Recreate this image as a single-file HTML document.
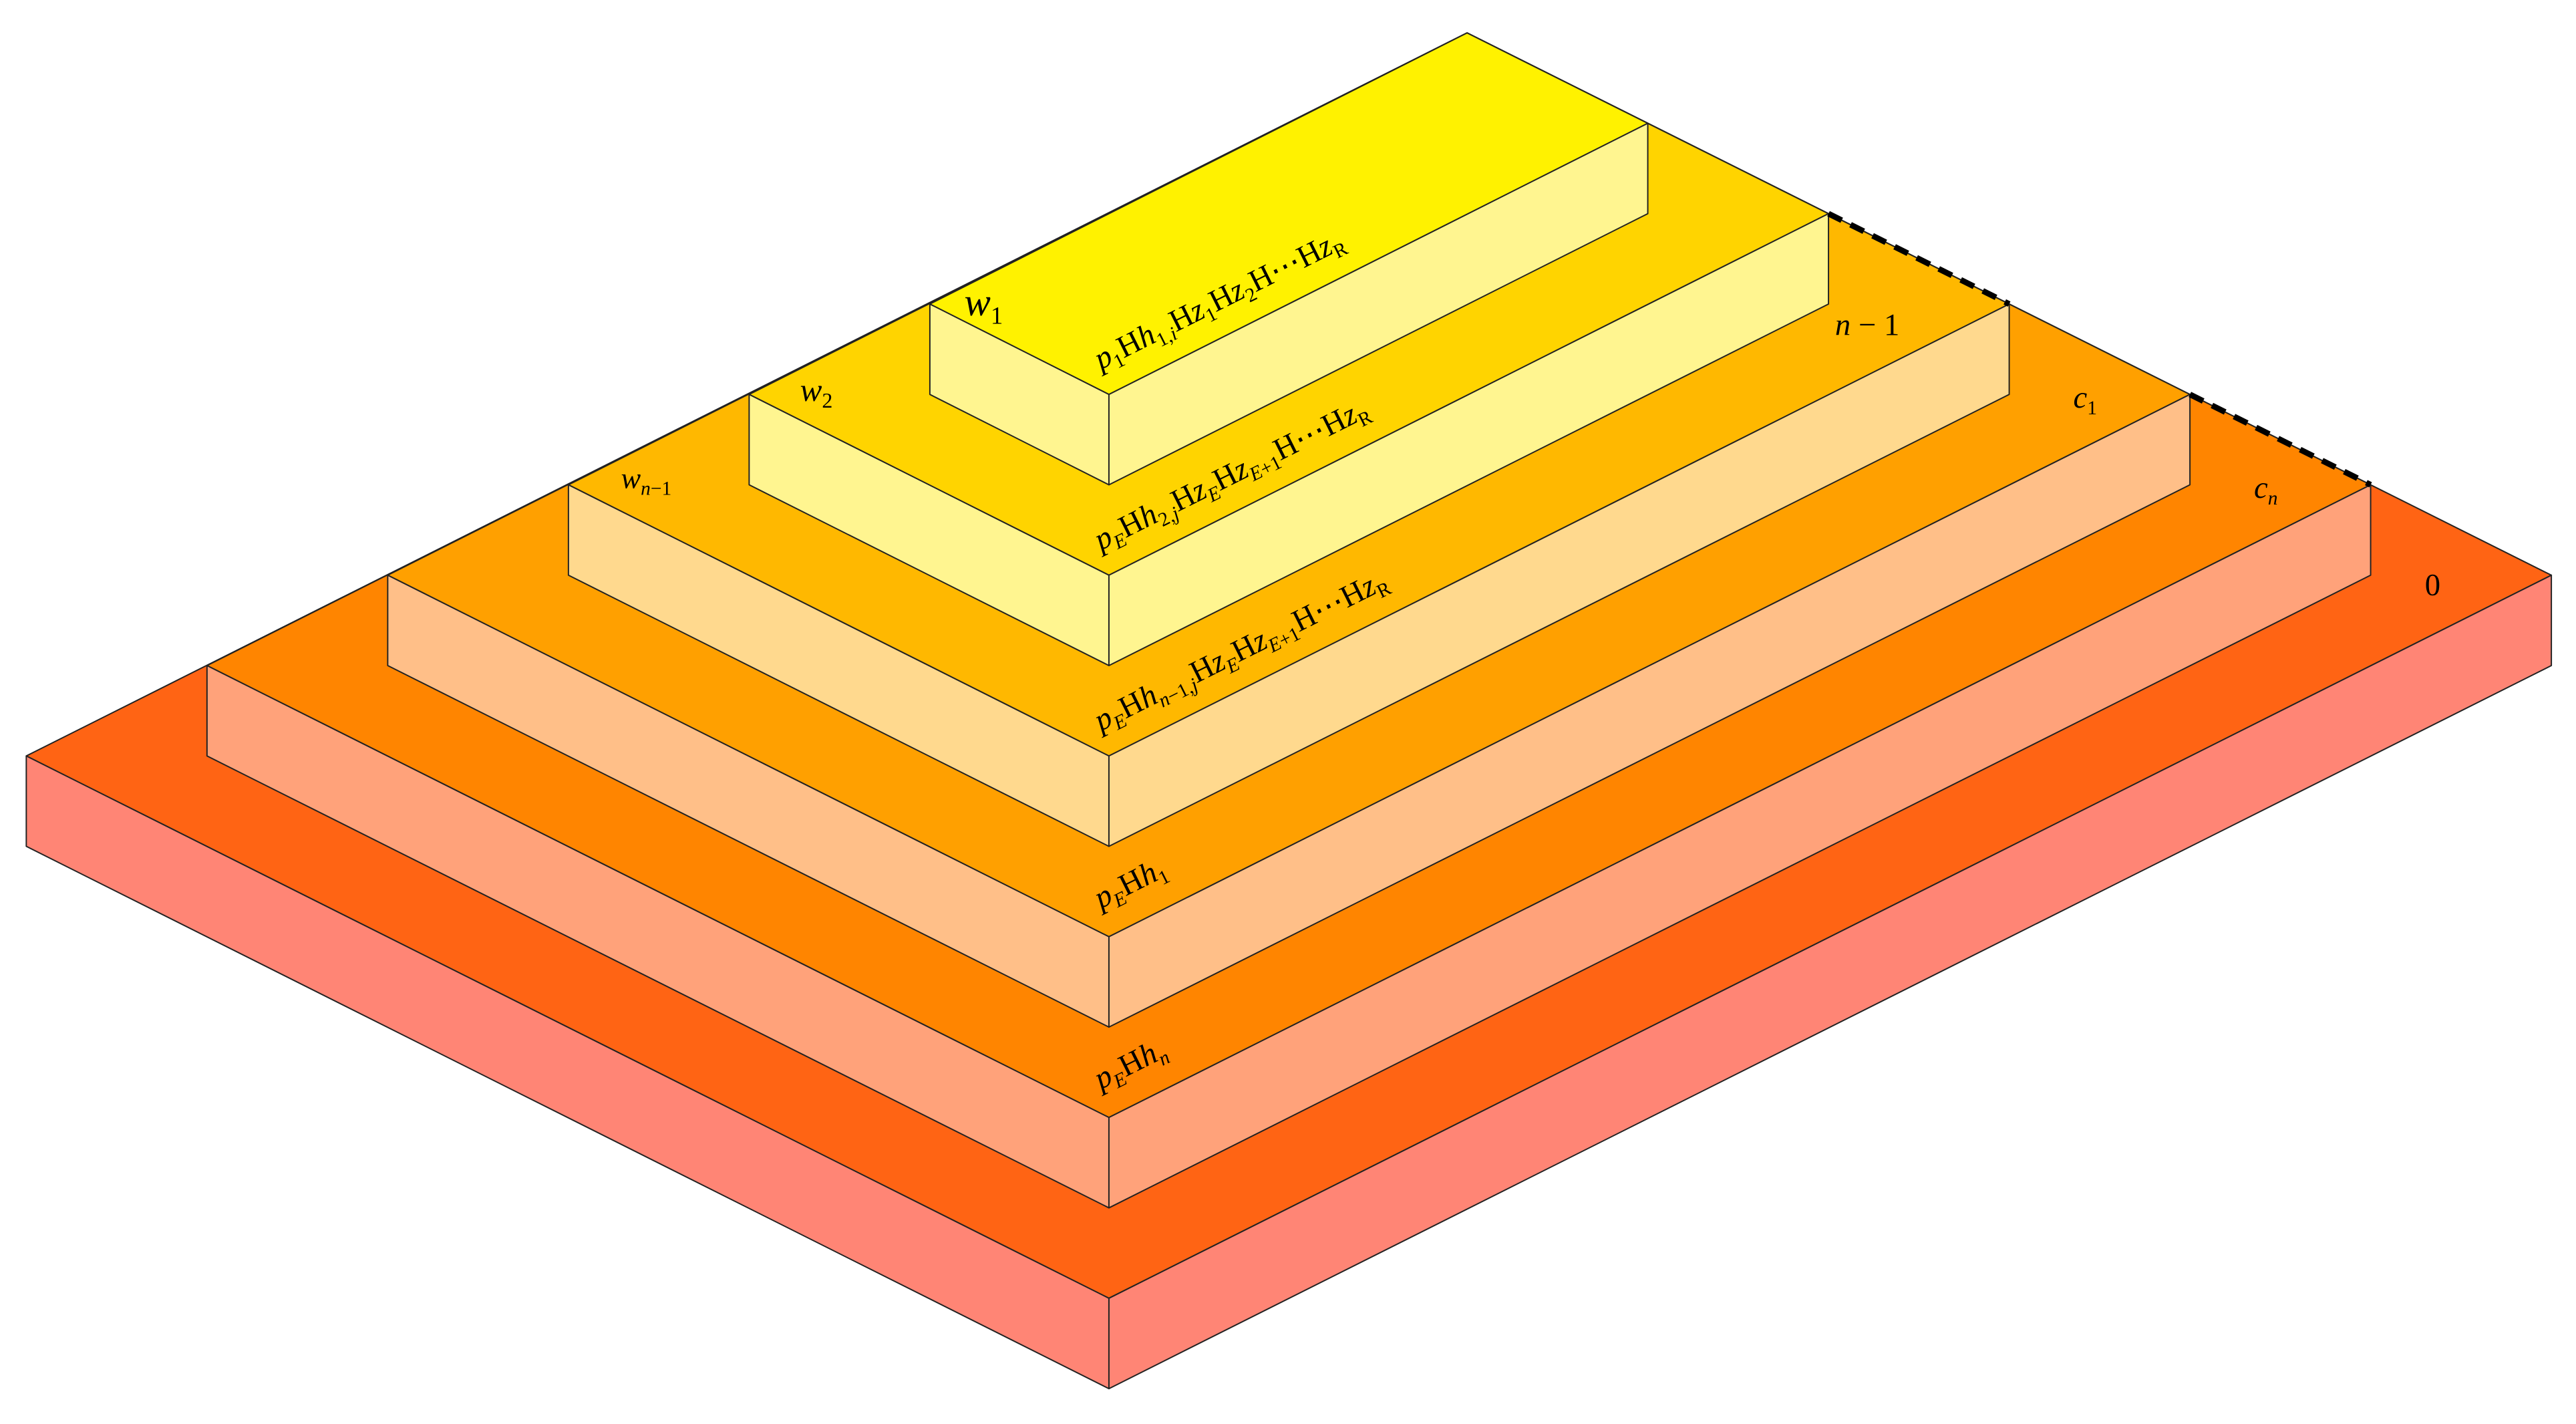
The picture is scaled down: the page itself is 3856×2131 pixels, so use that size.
<!DOCTYPE html>
<html><head><meta charset="utf-8"><style>
html,body{margin:0;padding:0;background:#fff;}
svg{display:block}
text{font-family:"Liberation Serif",serif;}
</style></head><body>
<svg width="3856" height="2131" viewBox="0 0 1568 866.5" xmlns="http://www.w3.org/2000/svg">
<g stroke="#222" stroke-width="0.8" stroke-linejoin="round">
<!-- layer 0 -->
<polygon points="893,20 16,460 675,790 1553,350" fill="#FF6414"/>
<polygon points="16,460 675,790 675,845 16,515" fill="#FF8575"/>
<polygon points="675,790 1553,350 1553,405 675,845" fill="#FF8575"/>
<!-- layer 1 -->
<polygon points="893,20 126,405 675,680 1443,295" fill="#FF8500"/>
<polygon points="126,405 675,680 675,735 126,460" fill="#FFA27A"/>
<polygon points="675,680 1443,295 1443,350 675,735" fill="#FFA27A"/>
<!-- layer 2 -->
<polygon points="893,20 236,350 675,570 1333,240" fill="#FFA000"/>
<polygon points="236,350 675,570 675,625 236,405" fill="#FFBF88"/>
<polygon points="675,570 1333,240 1333,295 675,625" fill="#FFBF88"/>
<!-- layer 3 -->
<polygon points="893,20 346,295 675,460 1223,185" fill="#FFB800"/>
<polygon points="346,295 675,460 675,515 346,350" fill="#FFD98E"/>
<polygon points="675,460 1223,185 1223,240 675,515" fill="#FFD98E"/>
<!-- layer 4 -->
<polygon points="893,20 456,240 675,350 1113,130" fill="#FFD400"/>
<polygon points="456,240 675,350 675,405 456,295" fill="#FFF590"/>
<polygon points="675,350 1113,130 1113,185 675,405" fill="#FFF590"/>
<!-- layer 5 -->
<polygon points="893,20 566,185 675,240 1003,75" fill="#FFF200"/>
<polygon points="566,185 675,240 675,295 566,240" fill="#FFF590"/>
<polygon points="675,240 1003,75 1003,130 675,295" fill="#FFF590"/>
</g>
<g stroke="#000" stroke-width="3.5" stroke-dasharray="9,6">
<line x1="1113" y1="130" x2="1223" y2="185"/>
<line x1="1333" y1="240" x2="1443" y2="295"/>
</g>
<g fill="#000" font-style="italic">
<text x="587" y="192" font-size="24">w<tspan font-size="15" dy="5" font-style="normal">1</tspan></text>
<text x="487" y="244" font-size="20">w<tspan font-size="13" dy="4" font-style="normal">2</tspan></text>
<text x="378" y="297" font-size="18">w<tspan font-size="12" dy="4">n</tspan><tspan font-size="12" font-style="normal">−1</tspan></text>
<text x="1117" y="204" font-size="19">n <tspan font-style="normal">− 1</tspan></text>
<text x="1262" y="248" font-size="19">c<tspan font-size="12" dy="4" font-style="normal">1</tspan></text>
<text x="1372" y="303" font-size="19">c<tspan font-size="12" dy="4">n</tspan></text>
<text x="1476" y="362" font-size="19" font-style="normal">0</text>
</g>
<g fill="#000" font-size="19" font-style="italic">
<text transform="translate(670,225) rotate(-26.57)">p<tspan font-size="12" dy="4" font-style="normal">1</tspan><tspan dy="-4" font-style="normal">H</tspan>h<tspan font-size="12" dy="4" font-style="normal">1,</tspan><tspan font-size="12">i</tspan><tspan dy="-4" font-style="normal">H</tspan>z<tspan font-size="12" dy="4" font-style="normal">1</tspan><tspan dy="-4" font-style="normal">H</tspan>z<tspan font-size="12" dy="4" font-style="normal">2</tspan><tspan dy="-4" font-style="normal">H⋯H</tspan>z<tspan font-size="12" dy="4" font-style="normal">R</tspan></text>
<text transform="translate(670,335) rotate(-26.57)">p<tspan font-size="12" dy="4">E</tspan><tspan dy="-4" font-style="normal">H</tspan>h<tspan font-size="12" dy="4" font-style="normal">2,</tspan><tspan font-size="12">j</tspan><tspan dy="-4" font-style="normal">H</tspan>z<tspan font-size="12" dy="4">E</tspan><tspan dy="-4" font-style="normal">H</tspan>z<tspan font-size="12" dy="4">E</tspan><tspan font-size="12" font-style="normal">+1</tspan><tspan dy="-4" font-style="normal">H⋯H</tspan>z<tspan font-size="12" dy="4" font-style="normal">R</tspan></text>
<text transform="translate(670,445) rotate(-26.57)">p<tspan font-size="12" dy="4">E</tspan><tspan dy="-4" font-style="normal">H</tspan>h<tspan font-size="12" dy="4">n</tspan><tspan font-size="12" font-style="normal">−1,</tspan><tspan font-size="12">j</tspan><tspan dy="-4" font-style="normal">H</tspan>z<tspan font-size="12" dy="4">E</tspan><tspan dy="-4" font-style="normal">H</tspan>z<tspan font-size="12" dy="4">E</tspan><tspan font-size="12" font-style="normal">+1</tspan><tspan dy="-4" font-style="normal">H⋯H</tspan>z<tspan font-size="12" dy="4" font-style="normal">R</tspan></text>
<text transform="translate(670,553) rotate(-26.57)">p<tspan font-size="12" dy="4">E</tspan><tspan dy="-4" font-style="normal">H</tspan>h<tspan font-size="12" dy="4" font-style="normal">1</tspan></text>
<text transform="translate(670,663) rotate(-26.57)">p<tspan font-size="12" dy="4">E</tspan><tspan dy="-4" font-style="normal">H</tspan>h<tspan font-size="12" dy="4">n</tspan></text>
</g>
</svg>
</body></html>
